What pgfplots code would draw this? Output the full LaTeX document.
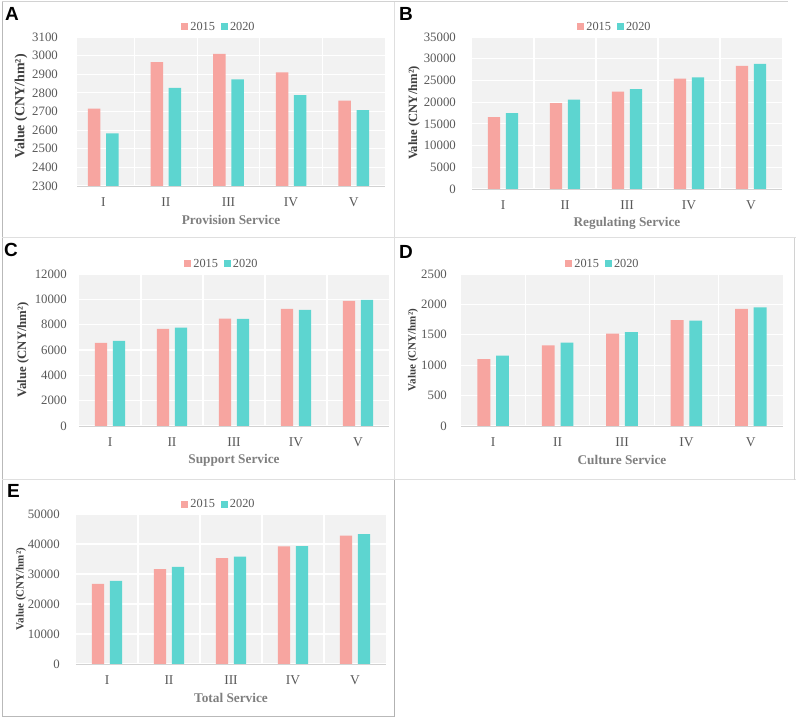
\documentclass[border=0pt]{standalone}
\usepackage{pgfplots}
\pgfplotsset{compat=1.18}
\usepackage{fontspec}
\setmainfont{Liberation Serif}
\newfontfamily\labelfont{Liberation Sans}
\definecolor{pinkc}{HTML}{F7A5A0}
\definecolor{tealc}{HTML}{5DD5D0}
\definecolor{bgc}{HTML}{F2F2F2}
\definecolor{tickc}{HTML}{595959}
\definecolor{xlabc}{HTML}{7F7F7F}
\definecolor{ylabc}{HTML}{404040}
\pgfplotsset{
  panel/.style={
    scale only axis,
    ybar, bar width=0.2,
    xmin=-0.5, xmax=4.5,
    xtick={0,1,2,3,4}, xticklabels={I,II,III,IV,V},
    minor xtick={0.5,1.5,2.5,3.5},
    xminorgrids=true, ymajorgrids=true,
    major grid style={white, line width=1.2pt},
    minor grid style={white, line width=1.2pt},
    axis background/.style={fill=bgc},
    axis line style={draw=none},
    major tick length=0pt, minor tick length=0pt,
    tick style={draw=none},
    scaled y ticks=false,
    /pgf/number format/assume math mode=true,
    /pgf/number format/1000 sep={},
    tick label style={inner sep=0pt, text=tickc},
    yticklabel style={font=\fontsize{12.8}{13}\selectfont, anchor=east},
    xticklabel style={font=\fontsize{13.5}{14}\selectfont, anchor=north, yshift=-11pt},
    legend style={draw=none, fill=none, legend columns=2, font=\fontsize{12.3}{13}\selectfont, text=tickc, anchor=center,
      at={(axis description cs:0.5,1)}, xshift=-12pt, yshift=10pt,
      /tikz/every even column/.append style={column sep=4pt}},
    legend image code/.code={\fill[##1] (0pt,-3.5pt) rectangle (7pt,3.5pt);},
    every axis x label/.style={at={(axis description cs:0.5,0)}, anchor=center, yshift=-34pt, font=\bfseries\fontsize{13.3}{14}\selectfont, text=xlabc},
    every axis y label/.style={at={(axis description cs:0,0.5)}, anchor=center, rotate=90, text=ylabc},
    after end axis/.code={\draw[gray!35, line width=0.8pt] (axis description cs:0,0) -- (axis description cs:1,0);},
  },
  s15/.style={fill=pinkc, draw=none, bar shift=-0.145},
  s20/.style={fill=tealc, draw=none, bar shift=0.145},
}
\begin{document}
\begin{tikzpicture}
\path[fill=white] (0,0) rectangle (796pt,720pt);
% frames
\draw[gray!55, line width=1pt] (2pt,3pt) -- (2pt,718pt);
\draw[gray!35, line width=1pt] (2pt,718pt) -- (788pt,718pt);
\draw[gray!25, line width=1pt] (394pt,718pt) -- (394pt,240pt);
\draw[gray!60, line width=1pt] (394pt,240pt) -- (394pt,3pt);
\draw[gray!25, line width=1pt] (2pt,482pt) -- (796pt,482pt);
\draw[gray!25, line width=1pt] (2pt,240pt) -- (796pt,240pt);
\draw[gray!35, line width=1pt] (794pt,482pt) -- (794pt,240pt);
\draw[gray!55, line width=1pt] (2pt,3pt) -- (394pt,3pt);
% panel letters
\node[anchor=north west, inner sep=0pt] at (5pt,713pt) {\labelfont\bfseries\fontsize{19}{19}\selectfont A};
\node[anchor=north west, inner sep=0pt] at (399pt,713pt) {\labelfont\bfseries\fontsize{19}{19}\selectfont B};
\node[anchor=north west, inner sep=0pt] at (4pt,477pt) {\labelfont\bfseries\fontsize{19}{19}\selectfont C};
\node[anchor=north west, inner sep=0pt] at (399pt,475pt) {\labelfont\bfseries\fontsize{19}{19}\selectfont D};
\node[anchor=north west, inner sep=0pt] at (7pt,236pt) {\labelfont\bfseries\fontsize{19}{19}\selectfont E};

% A
\begin{axis}[panel, at={(77pt,534pt)}, anchor=south west, width=308pt, height=149pt,
  xmin=-0.42, xmax=4.5,
  ymin=2300, ymax=3100, ytick distance=100,
  yticklabel style={xshift=-19pt},
  xlabel={Provision Service},
  ylabel={Value (CNY/hm²)},
  ylabel style={xshift=5pt, yshift=56pt, font=\bfseries\fontsize{14}{15}\selectfont}]
\addplot[s15] coordinates {(0,2715) (1,2965) (2,3010) (3,2910) (4,2759)};
\addplot[s20] coordinates {(0,2583) (1,2827) (2,2872) (3,2788) (4,2707)};
\legend{2015,2020}
\end{axis}

% B
\begin{axis}[panel, at={(472pt,531pt)}, anchor=south west, width=310pt, height=152pt,
  ymin=0, ymax=35000, ytick distance=5000,
  yticklabel style={xshift=-16pt},
  xlabel={Regulating Service},
  ylabel={Value (CNY/hm²)},
  ylabel style={yshift=58pt, font=\bfseries\fontsize{12.6}{13}\selectfont}]
\addplot[s15] coordinates {(0,16540) (1,19760) (2,22440) (3,25430) (4,28340)};
\addplot[s20] coordinates {(0,17460) (1,20600) (2,22980) (3,25730) (4,28800)};
\legend{2015,2020}
\end{axis}

% C
\begin{axis}[panel, at={(79pt,294pt)}, anchor=south west, width=310pt, height=152pt,
  ymin=0, ymax=12000, ytick distance=2000,
  yticklabel style={xshift=-12pt},
  xlabel={Support Service},
  ylabel={Value (CNY/hm²)},
  ylabel style={yshift=56pt, font=\bfseries\fontsize{12.8}{13}\selectfont}]
\addplot[s15] coordinates {(0,6555) (1,7665) (2,8485) (3,9250) (4,9885)};
\addplot[s20] coordinates {(0,6714) (1,7771) (2,8458) (3,9172) (4,9965)};
\legend{2015,2020}
\end{axis}

% D
\begin{axis}[panel, at={(461pt,294pt)}, anchor=south west, width=322pt, height=152pt,
  ymin=0, ymax=2500, ytick distance=500,
  yticklabel style={xshift=-14pt},
  xlabel={Culture Service},
  legend style={xshift=-7pt},
  ylabel={Value (CNY/hm²)},
  ylabel style={yshift=48pt, font=\bfseries\fontsize{11}{12}\selectfont}]
\addplot[s15] coordinates {(0,1101) (1,1327) (2,1520) (3,1740) (4,1927)};
\addplot[s20] coordinates {(0,1156) (1,1371) (2,1542) (3,1735) (4,1949)};
\legend{2015,2020}
\end{axis}

% E
\begin{axis}[panel, at={(76pt,56pt)}, anchor=south west, width=310pt, height=150pt,
  ymin=0, ymax=50000, ytick distance=10000,
  yticklabel style={xshift=-16pt},
  xlabel={Total Service},
  ylabel={Value (CNY/hm²)},
  ylabel style={yshift=55pt, font=\bfseries\fontsize{11}{12}\selectfont}]
\addplot[s15] coordinates {(0,26730) (1,31630) (2,35300) (3,39200) (4,42760)};
\addplot[s20] coordinates {(0,27730) (1,32400) (2,35750) (3,39310) (4,43320)};
\legend{2015,2020}
\end{axis}

\pgfresetboundingbox
\path (0,0) rectangle (796pt,720pt);
\end{tikzpicture}
\end{document}
